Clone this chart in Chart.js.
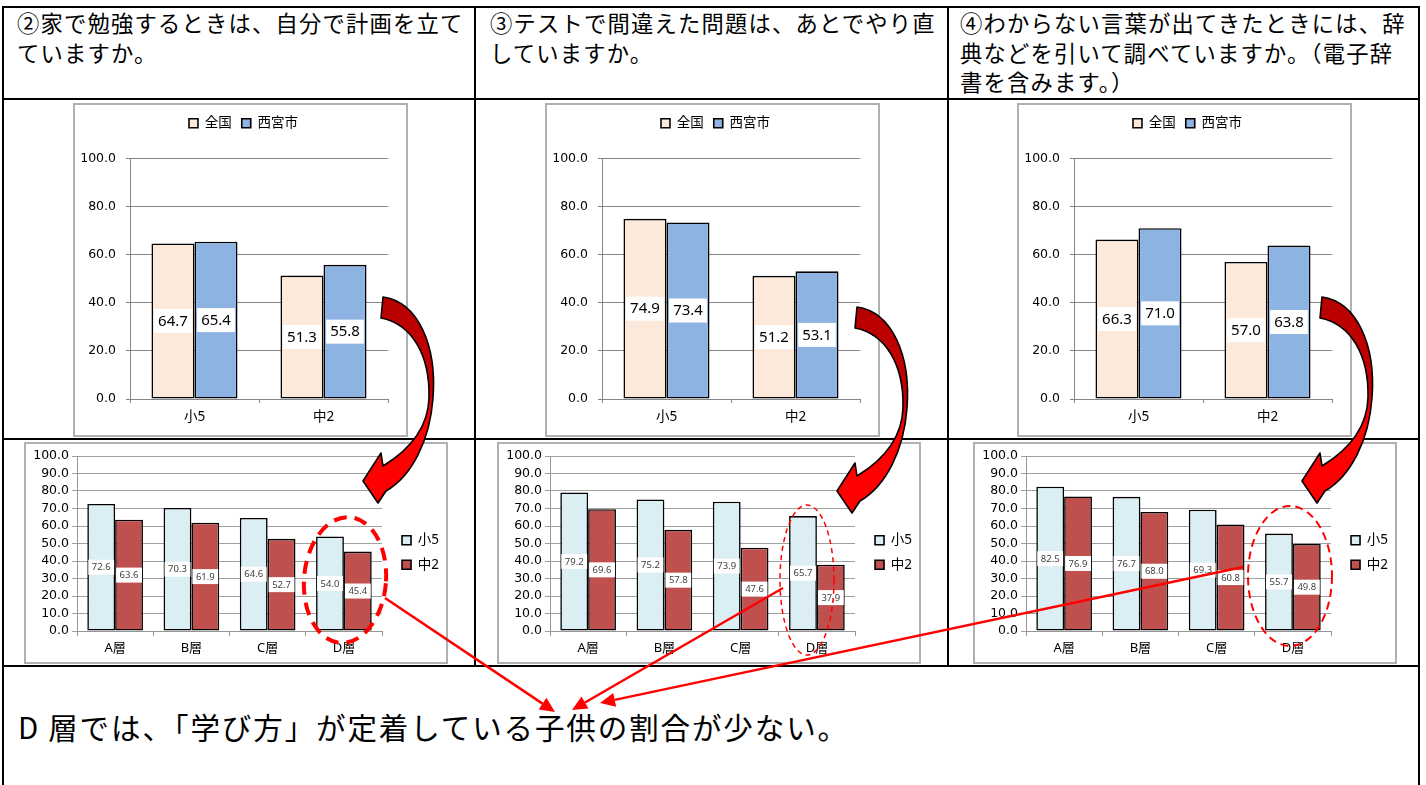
<!DOCTYPE html>
<html>
<head>
<meta charset="utf-8">
<script src="https://cdn.jsdelivr.net/npm/chart.js@4.4.1/dist/chart.umd.min.js"></script>
<style>
body { margin: 0; width: 1426px; height: 785px; background: #fff; position: relative; overflow: hidden; font-family: "Noto Sans CJK JP", sans-serif; color: #000; }
.ln { position: absolute; background: #000; }
.head { position: absolute; top: 8px; font-size: 22.3px; line-height: 29.5px; letter-spacing: 1.2px; white-space: nowrap; }
.box { position: absolute; border: 2px solid #b0b0b0; box-sizing: border-box; background: #fff; }
#note { position: absolute; left: 18px; top: 708px; font-size: 29.5px; line-height: 36px; letter-spacing: 1.9px; white-space: nowrap; }
#ov { position: absolute; left: 0; top: 0; z-index: 10; }
</style>
</head>
<body>

<!-- table lines -->
<div class="ln" style="left:2px;top:6px;width:1418px;height:2px"></div>
<div class="ln" style="left:2px;top:98px;width:1418px;height:2px"></div>
<div class="ln" style="left:2px;top:438px;width:1418px;height:2px"></div>
<div class="ln" style="left:2px;top:665px;width:1418px;height:2px"></div>
<div class="ln" style="left:2px;top:6px;width:2px;height:779px"></div>
<div class="ln" style="left:474px;top:6px;width:2px;height:661px"></div>
<div class="ln" style="left:947px;top:6px;width:2px;height:661px"></div>
<div class="ln" style="left:1418px;top:6px;width:2px;height:779px"></div>

<div class="head" style="left:17px">②家で勉強するときは、自分で計画を立て<br>ていますか。</div>
<div class="head" style="left:490px">③テストで間違えた問題は、あとでやり直<br>していますか。</div>
<div class="head" style="left:960px">④わからない言葉が出てきたときには、辞<br>典などを引いて調べていますか。（電子辞<br>書を含みます。）</div>

<div class="box" style="left:73px;top:103px;width:335px;height:334px"><canvas id="t2"></canvas></div>
<div class="box" style="left:545px;top:103px;width:335px;height:334px"><canvas id="t3"></canvas></div>
<div class="box" style="left:1017px;top:103px;width:335px;height:334px"><canvas id="t4"></canvas></div>

<div class="box" style="left:24px;top:442px;width:424px;height:222px"><canvas id="b2"></canvas></div>
<div class="box" style="left:497px;top:442px;width:424px;height:222px"><canvas id="b3"></canvas></div>
<div class="box" style="left:973px;top:442px;width:424px;height:222px"><canvas id="b4"></canvas></div>

<div id="note">D<span style="margin-left:8px"></span>層では、「学び方」が定着している子供の割合が少ない。</div>

<canvas id="ov" width="1426" height="785"></canvas>

<script>
// 上段：全国と西宮市
const catsTop = ['小5', '中2'];
const seriesTop = ['全国', '西宮市'];
const zenkoku2 = [64.7, 51.3];
const nishinomiya2 = [65.4, 55.8];
const zenkoku3 = [74.9, 51.2];
const nishinomiya3 = [73.4, 53.1];
const zenkoku4 = [66.3, 57.0];
const nishinomiya4 = [71.0, 63.8];

// 下段：層別
const catsBottom = ['A層', 'B層', 'C層', 'D層'];
const seriesBottom = ['小5', '中2'];
const sho5_2 = [72.6, 70.3, 64.6, 54.0];
const chu2_2 = [63.6, 61.9, 52.7, 45.4];
const sho5_3 = [79.2, 75.2, 73.9, 65.7];
const chu2_3 = [69.6, 57.8, 47.6, 37.9];
const sho5_4 = [82.5, 76.7, 69.3, 55.7];
const chu2_4 = [76.9, 68.0, 60.8, 49.8];

const FONT = "'Noto Sans', 'Noto Sans CJK JP', sans-serif";
const TICKFONT = "'DejaVu Sans', 'Noto Sans CJK JP', sans-serif";
Chart.defaults.font.family = FONT;
Chart.defaults.color = '#000';

// 棒の中央に白い箱で数値
const valueLabels = {
    id: 'valueLabels',
    afterDatasetsDraw(chart, args, opts) {
        const ctx = chart.ctx;
        ctx.save();
        ctx.font = opts.font;
        ctx.textAlign = 'center';
        ctx.textBaseline = 'middle';
        chart.data.datasets.forEach((ds, i) => {
            chart.getDatasetMeta(i).data.forEach((bar, j) => {
                const txt = ds.data[j].toFixed(1);
                const y = (bar.y + bar.base) / 2;
                const w = ctx.measureText(txt).width + opts.padX * 2;
                ctx.fillStyle = '#fff';
                ctx.fillRect(bar.x - w / 2, y - opts.h / 2, w, opts.h);
                ctx.fillStyle = opts.color;
                ctx.fillText(txt, bar.x, y + 0.5);
            });
        });
        ctx.restore();
    }
};

// 凡例の位置を少しずらす
const legendShift = {
    id: 'legendShift',
    afterLayout(chart, args, opts) {
        const lg = chart.legend;
        if (!lg) return;
        lg.left += opts.dx; lg.right += opts.dx;
        lg.top += opts.dy; lg.bottom += opts.dy;
    }
};

function barSet(label, data, color, pct) {
    return {
        label: label, data: data, backgroundColor: color,
        borderColor: '#000', borderWidth: 1.6, borderSkipped: false,
        categoryPercentage: pct, barPercentage: 1
    };
}

function graficoArriba(id, a, b) {
    new Chart(document.getElementById(id), {
        type: 'bar',
        data: {
            labels: catsTop,
            datasets: [barSet(seriesTop[0], a, '#FDE9D9', 0.667), barSet(seriesTop[1], b, '#8DB3E2', 0.667)]
        },
        options: {
            responsive: true, maintainAspectRatio: false, animation: false,
            layout: { padding: { top: 20, left: 0, right: 18, bottom: 0 } },
            plugins: {
                legend: { position: 'top', labels: { boxWidth: 9, boxHeight: 9, padding: 10, color: '#000', font: { size: 13.5 } } },
                tooltip: { enabled: false },
                valueLabels: { font: '15px ' + FONT, padX: 4, h: 24, color: '#000' },
                legendShift: { dx: 12, dy: -18.5 }
            },
            scales: {
                x: {
                    grid: { drawOnChartArea: false, offset: true, tickLength: 4, color: '#868686' },
                    border: { color: '#868686' },
                    ticks: { color: '#000', font: { size: 13.5 }, padding: 6 },
                    afterFit: s => { s.height = 36; }
                },
                y: {
                    min: 0, max: 100,
                    ticks: { stepSize: 20, autoSkip: false, color: '#000', padding: 10, font: { size: 12.5, family: TICKFONT }, callback: v => v.toFixed(1) },
                    grid: { color: '#868686', tickLength: 4 },
                    border: { color: '#868686' },
                    afterFit: s => { s.width = 55; }
                }
            }
        },
        plugins: [valueLabels, legendShift]
    });
}

function graficoAbajo(id, a, b) {
    new Chart(document.getElementById(id), {
        type: 'bar',
        data: {
            labels: catsBottom,
            datasets: [barSet(seriesBottom[0], a, '#DAEEF3', 0.73), barSet(seriesBottom[1], b, '#C0504D', 0.73)]
        },
        options: {
            responsive: true, maintainAspectRatio: false, animation: false,
            layout: { padding: { top: 12, left: 0, right: 6, bottom: 0 } },
            plugins: {
                legend: { position: 'right', labels: { boxWidth: 9, boxHeight: 9, padding: 11, color: '#000', font: { size: 13.5 } } },
                tooltip: { enabled: false },
                valueLabels: { font: '9.5px ' + FONT, padX: 3.5, h: 15, color: '#404040' },
                legendShift: { dx: 9, dy: -6.5 }
            },
            scales: {
                x: {
                    grid: { drawOnChartArea: false, offset: true, tickLength: 5, color: '#969696' },
                    border: { color: '#969696' },
                    ticks: { color: '#000', font: { size: 13 }, padding: 4 },
                    afterFit: s => { s.height = 31; }
                },
                y: {
                    min: 0, max: 100,
                    ticks: { stepSize: 10, autoSkip: false, color: '#000', padding: 3, font: { size: 12.5, family: TICKFONT }, callback: v => v.toFixed(1) },
                    grid: { color: '#a0a0a0', tickLength: 5 },
                    border: { color: '#969696' },
                    afterFit: s => { s.width = 51; }
                }
            }
        },
        plugins: [valueLabels, legendShift]
    });
}

graficoArriba('t2', zenkoku2, nishinomiya2);
graficoArriba('t3', zenkoku3, nishinomiya3);
graficoArriba('t4', zenkoku4, nishinomiya4);
graficoAbajo('b2', sho5_2, chu2_2);
graficoAbajo('b3', sho5_3, chu2_3);
graficoAbajo('b4', sho5_4, chu2_4);

// 矢印と点線の楕円
const ov = document.getElementById('ov').getContext('2d');

function elipse(cx, cy, rx, ry, rot, lw, dash) {
    ov.save();
    ov.beginPath();
    ov.ellipse(cx, cy, rx, ry, rot, 0, Math.PI * 2);
    ov.setLineDash(dash);
    ov.lineWidth = lw;
    ov.strokeStyle = '#ff0000';
    ov.stroke();
    ov.restore();
}

function flechaCurva(dx, dy) {
    ov.save();
    ov.translate(dx, dy);
    ov.beginPath();
    ov.moveTo(383, 297);
    ov.bezierCurveTo(418, 302, 437, 345, 433, 398);
    ov.bezierCurveTo(430, 440, 412, 476, 386, 491);
    ov.lineTo(378, 503);
    ov.lineTo(363, 481);
    ov.lineTo(381, 453);
    ov.lineTo(383, 466);
    ov.bezierCurveTo(406, 452, 428, 430, 429, 398);
    ov.bezierCurveTo(430, 355, 412, 324, 381, 318);
    ov.closePath();
    const g = ov.createLinearGradient(0, 297, 0, 500);
    g.addColorStop(0, '#b80000');
    g.addColorStop(0.45, '#c40000');
    g.addColorStop(0.58, '#ff0000');
    g.addColorStop(1, '#ff0000');
    ov.fillStyle = g;
    ov.fill();
    ov.lineWidth = 1.6;
    ov.lineJoin = 'round';
    ov.strokeStyle = '#000';
    ov.stroke();
    ov.restore();
}

function flechaRecta(x1, y1, x2, y2) {
    const ang = Math.atan2(y2 - y1, x2 - x1);
    const len = 15, half = 7;
    const bx = x2 - len * Math.cos(ang), by = y2 - len * Math.sin(ang);
    ov.save();
    ov.strokeStyle = '#ff0000';
    ov.fillStyle = '#ff0000';
    ov.lineWidth = 2.5;
    ov.beginPath();
    ov.moveTo(x1, y1);
    ov.lineTo(bx, by);
    ov.stroke();
    ov.beginPath();
    ov.moveTo(x2, y2);
    ov.lineTo(bx + half * Math.sin(ang), by - half * Math.cos(ang));
    ov.lineTo(bx - half * Math.sin(ang), by + half * Math.cos(ang));
    ov.closePath();
    ov.fill();
    ov.restore();
}

elipse(345, 580, 41, 63, 0.08, 4, [13, 8]);
elipse(807, 580, 27, 75, 0, 1.5, [5, 4]);
elipse(1290, 576, 42, 70, 0, 2, [8, 5]);

flechaCurva(0, 0);
flechaCurva(474, 10);
flechaCurva(939, 0);

flechaRecta(385, 598, 555, 712);
flechaRecta(783, 588, 572, 710);
flechaRecta(1243, 567, 600, 703);
</script>
</body>
</html>
